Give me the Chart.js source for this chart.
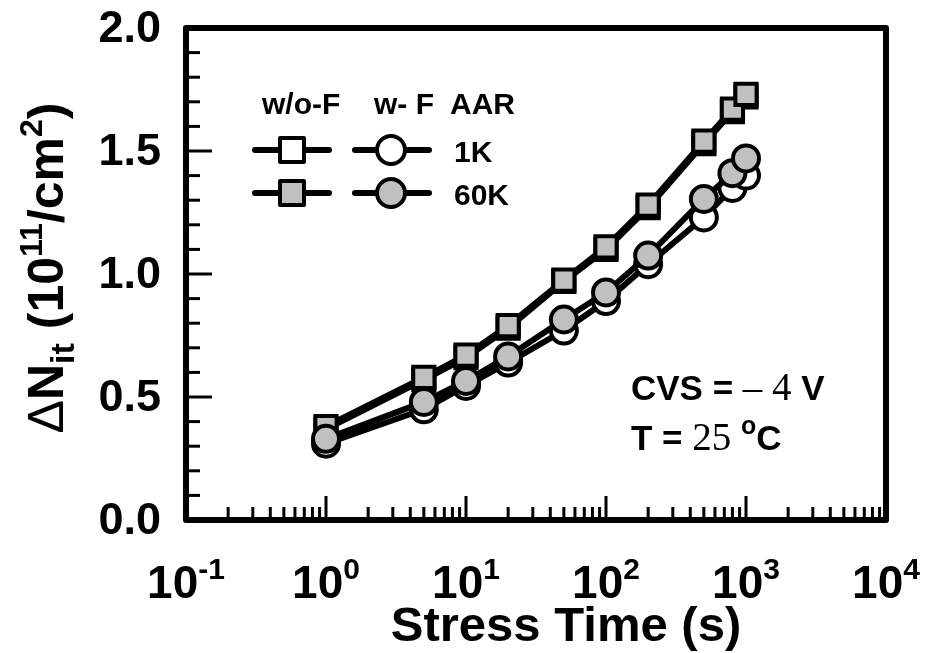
<!DOCTYPE html>
<html lang="en">
<head>
    <meta charset="UTF-8">
    <title>Stress Time vs Delta Nit</title>
    <style>
        body {
            margin: 0;
            background: #ffffff;
        }
        #wrap {
            width: 929px;
            height: 653px;
        }
    </style>
    <script src="https://cdn.jsdelivr.net/npm/chart.js"></script>
</head>
<body>
<div id="wrap"><canvas id="nitChart" width="929" height="653"></canvas></div>

<script>
    // stress time (s)
    var stressTime = [1, 5, 10, 20, 50, 100, 200, 500, 800, 1000];

    // delta Nit (1e11 / cm2)
    var woF1K  = [0.37, 0.57, 0.66, 0.78, 0.97, 1.10, 1.27, 1.53, 1.66, 1.72];
    var woF60K = [0.38, 0.58, 0.67, 0.79, 0.975, 1.11, 1.28, 1.54, 1.67, 1.73];
    var wF1K   = [0.31, 0.45, 0.545, 0.64, 0.77, 0.89, 1.04, 1.23, 1.35, 1.40];
    var wF60K  = [0.33, 0.48, 0.565, 0.665, 0.815, 0.925, 1.075, 1.305, 1.41, 1.47];

    var yTicks = [0.0, 0.5, 1.0, 1.5, 2.0];
    var xExponents = [-1, 0, 1, 2, 3, 4];

    var BOLD = 'bold ';
    var SANS = '"Liberation Sans", Arial, sans-serif';
    var SERIF = '"Liberation Serif", "Times New Roman", serif';

    function toPoints(vals) {
        return stressTime.map(function (t, i) { return { x: t, y: vals[i] }; });
    }

    function makeSet(label, vals, shape, fill, order) {
        return {
            label: label,
            data: toPoints(vals),
            borderColor: '#000',
            borderWidth: 6,
            pointStyle: shape,
            pointRadius: shape === 'rect' ? 15 : 13,
            pointBackgroundColor: fill,
            pointBorderColor: '#000',
            pointBorderWidth: 4,
            order: order,
            clip: false
        };
    }

    // text with a super/subscript part
    function drawPieces(ctx, pieces, x, y, align) {
        var total = 0;
        pieces.forEach(function (p) {
            ctx.font = p.font;
            p.w = ctx.measureText(p.t).width;
            total += p.w;
        });
        var cx = x;
        if (align === 'center') cx = x - total / 2;
        if (align === 'right') cx = x - total;
        ctx.textAlign = 'left';
        ctx.textBaseline = 'alphabetic';
        pieces.forEach(function (p) {
            ctx.font = p.font;
            ctx.fillText(p.t, cx, y + (p.dy || 0));
            cx += p.w;
        });
        return total;
    }

    var framePlugin = {
        id: 'frame',
        afterDatasetsDraw: function (chart) {
            var ctx = chart.ctx;
            var xs = chart.scales.x, ys = chart.scales.y;
            var a = chart.chartArea;
            ctx.save();
            ctx.fillStyle = '#000';
            ctx.strokeStyle = '#000';

            // box
            ctx.lineWidth = 6;
            ctx.lineJoin = 'round';
            ctx.strokeRect(a.left, a.top, a.right - a.left, a.bottom - a.top);

            // y ticks
            ctx.lineWidth = 3;
            for (var k = 0; k <= 20; k++) {
                var v = k / 10;
                var py = ys.getPixelForValue(v);
                var len = (k % 5 === 0) ? 26 : 14;
                ctx.beginPath();
                ctx.moveTo(a.left, py);
                ctx.lineTo(a.left + len, py);
                ctx.stroke();
            }
            // x ticks
            for (var e = -1; e <= 3; e++) {
                for (var m = 1; m <= 9; m++) {
                    var val = m * Math.pow(10, e);
                    var px = xs.getPixelForValue(val);
                    var l = (m === 1) ? 24 : 13;
                    ctx.beginPath();
                    ctx.moveTo(px, a.bottom);
                    ctx.lineTo(px, a.bottom - l);
                    ctx.stroke();
                }
            }

            // y tick labels
            ctx.font = BOLD + '45px ' + SANS;
            ctx.textAlign = 'right';
            ctx.textBaseline = 'middle';
            yTicks.forEach(function (t) {
                ctx.fillText(t.toFixed(1), 161, ys.getPixelForValue(t) + 2);
            });

            // x tick labels
            xExponents.forEach(function (ex) {
                var px = xs.getPixelForValue(Math.pow(10, ex));
                drawPieces(ctx, [
                    { t: '10', font: BOLD + '46px ' + SANS },
                    { t: String(ex), font: BOLD + '30px ' + SANS, dy: -19 }
                ], px, 598, 'center');
            });

            // x title
            ctx.font = BOLD + '49px ' + SANS;
            ctx.textAlign = 'center';
            ctx.textBaseline = 'alphabetic';
            ctx.fillText('Stress Time (s)', 566, 641);

            // y title
            ctx.save();
            ctx.translate(63, 268);
            ctx.rotate(-Math.PI / 2);
            drawPieces(ctx, [
                { t: '\u0394', font: '50px ' + SANS },
                { t: 'N', font: BOLD + '50px ' + SANS },
                { t: 'it', font: BOLD + '34px ' + SANS, dy: 11 },
                { t: ' (10', font: BOLD + '50px ' + SANS },
                { t: '11', font: BOLD + '32px ' + SANS, dy: -21 },
                { t: '/cm', font: BOLD + '50px ' + SANS },
                { t: '2', font: BOLD + '32px ' + SANS, dy: -21 },
                { t: ')', font: BOLD + '50px ' + SANS }
            ], 0, 0, 'center');
            ctx.restore();

            // legend
            ctx.font = BOLD + '30px ' + SANS;
            ctx.textAlign = 'left';
            ctx.textBaseline = 'alphabetic';
            ctx.fillText('w/o-F', 262, 114);
            ctx.fillText('w- F', 374, 114);
            ctx.fillText('AAR', 450, 114);
            ctx.fillText('1K', 454, 162);
            ctx.fillText('60K', 454, 205);

            var rows = [
                { y: 150, fill: '#fff' },
                { y: 193, fill: '#c0c0c0' }
            ];
            rows.forEach(function (r) {
                ctx.lineWidth = 6;
                ctx.lineCap = 'round';
                ctx.beginPath();
                ctx.moveTo(255, r.y); ctx.lineTo(329, r.y);
                ctx.moveTo(355, r.y); ctx.lineTo(429, r.y);
                ctx.stroke();
                ctx.lineWidth = 4;
                ctx.fillStyle = r.fill;
                ctx.fillRect(280, r.y - 12, 24, 24);
                ctx.strokeRect(280, r.y - 12, 24, 24);
                ctx.beginPath();
                ctx.arc(391, r.y, 14, 0, Math.PI * 2);
                ctx.fill();
                ctx.stroke();
                ctx.fillStyle = '#000';
            });

            // conditions
            drawPieces(ctx, [
                { t: 'CVS = ', font: BOLD + '35px ' + SANS },
                { t: '\u2013 4', font: '39px ' + SERIF },
                { t: ' V', font: BOLD + '35px ' + SANS }
            ], 631, 400, 'left');
            drawPieces(ctx, [
                { t: 'T = ', font: BOLD + '35px ' + SANS },
                { t: '25', font: '39px ' + SERIF },
                { t: ' ', font: BOLD + '35px ' + SANS },
                { t: 'o', font: BOLD + '25px ' + SANS, dy: -16 },
                { t: 'C', font: BOLD + '35px ' + SANS }
            ], 631, 450, 'left');

            ctx.restore();
        }
    };

    var ctx = document.getElementById('nitChart').getContext('2d');
    var nitChart = new Chart(ctx, {
        type: 'line',
        data: {
            datasets: [
                makeSet('w/o-F 1K', woF1K, 'rect', '#ffffff', 3),
                makeSet('w/o-F 60K', woF60K, 'rect', '#c0c0c0', 2),
                makeSet('w-F 1K', wF1K, 'circle', '#ffffff', 1),
                makeSet('w-F 60K', wF60K, 'circle', '#c0c0c0', 0)
            ]
        },
        options: {
            responsive: false,
            animation: false,
            layout: { padding: { left: 186, right: 43, top: 28, bottom: 133 } },
            plugins: {
                legend: { display: false },
                tooltip: { enabled: false }
            },
            scales: {
                x: { type: 'logarithmic', min: 0.1, max: 10000, display: false },
                y: { type: 'linear', min: 0, max: 2, display: false }
            }
        },
        plugins: [framePlugin]
    });
</script>
</body>
</html>
